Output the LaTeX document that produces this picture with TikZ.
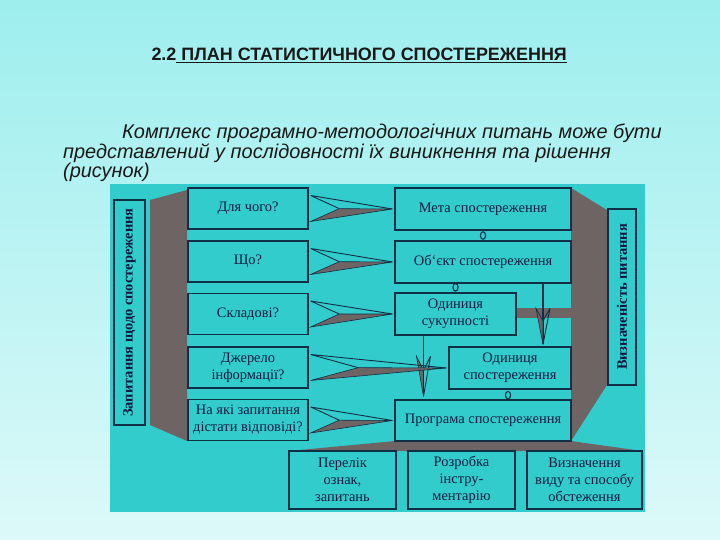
\documentclass[tikz,border=0pt]{standalone}
\usepackage{fontspec}
\setmainfont{Liberation Serif}
\newfontfamily\slidefont{Liberation Sans}
\usetikzlibrary{calc}

\definecolor{slidetop}{HTML}{9EEEEE}
\definecolor{slidebottom}{HTML}{DDF9F9}
\definecolor{panel}{HTML}{33CCCC}
\definecolor{greyband}{HTML}{6E6464}
\definecolor{edge}{HTML}{0E2F45}
\definecolor{ink}{HTML}{101A40}

% facet arrow from a question box to its answer box
\newcommand{\qarrow}[2]{%
  \coordinate (qa) at ($(#1.east)+(2,0)$);
  \coordinate (qt) at ($(#2.west)+(-2,0)$);
  \filldraw[fill=greyband, draw=edge, line width=0.6bp]
    ($(qa)!0.35!(qt)$) -- (qt) -- ($(qa)!13bp!-90:(qt)$) -- cycle;
  \draw[edge, line width=0.9bp]
    ($(qa)!13bp!90:(qt)$) -- (qt) ($(qa)!13bp!90:(qt)$) -- ($(qa)!0.35!(qt)$);
}
% line with a facet head, #3 = length of the head
\newcommand{\darrow}[3]{%
  \draw[edge, line width=1.2bp] (#1) -- (#2);
  \coordinate (da) at ($(#2)+(0,-#3)$);
  \filldraw[fill=greyband, draw=edge, line width=0.6bp]
    ($(da)!0.35!(#2)$) -- (#2) -- ($(da)!7bp!-90:(#2)$) -- cycle;
  \draw[edge, line width=0.9bp]
    ($(da)!7bp!90:(#2)$) -- (#2) ($(da)!7bp!90:(#2)$) -- ($(da)!0.35!(#2)$);
}

\begin{document}
\begin{tikzpicture}[
  x=1bp, y=-1bp,
  box/.style={draw=edge, line width=1.3bp, fill=panel, text=ink, align=center,
    inner sep=1bp, font=\fontsize{14.5}{17}\selectfont},
  qbox/.style={box, minimum width=120bp, minimum height=41bp},
  abox/.style={box, minimum width=176bp, minimum height=42bp},
  sidebox/.style={box, rotate=90, font=\bfseries\fontsize{14.5}{16}\selectfont},
  ring/.style={draw=edge, line width=1.1bp}
]
\useasboundingbox (0,0) rectangle (720,540);
\shade[top color=slidetop, bottom color=slidebottom] (0,0) rectangle (720,540);

\node[anchor=west, text=black!90, font=\slidefont\bfseries\fontsize{18}{20}\selectfont] (title)
  at (148,55) {2.2\underline{\hspace{0.28em}ПЛАН СТАТИСТИЧНОГО СПОСТЕРЕЖЕННЯ}};
\node[anchor=west, align=left, inner sep=0pt, text=black!90,
  font=\slidefont\itshape\fontsize{20}{18.5}\selectfont] (intro) at (63,153)
  {\hspace*{59bp}Комплекс програмно-методологічних питань може бути\\
   представлений у послідовності їх виникнення та рішення\\
   (рисунок)};

\fill[panel] (110,184) rectangle (645,512);

% grey bands behind the boxes
\fill[greyband] (150,200) -- (187,190) -- (187,441) -- (150,425) -- cycle;
\fill[greyband] (571,188) -- (607,210) -- (607,385) -- (571,441) -- cycle;
\fill[greyband] (516,308) rectangle (572,318);
\fill[greyband] (395,441) -- (571,441) -- (642,451) -- (289,451) -- cycle;

\node[sidebox, minimum width=225bp, minimum height=31bp] (ask) at (129.5,312.5)
  {Запитання щодо спостереження};
\node[sidebox, minimum width=176bp, minimum height=28bp] (clear) at (622,297)
  {Визначеність питання};

\node[qbox] (q1) at (248,208.5) {Для чого?};
\node[qbox] (q2) at (248,261.5) {Що?};
\node[qbox] (q3) at (248,314) {Складові?};
\node[qbox] (q4) at (248,367.5) {Джерело\\інформації?};
\node[qbox] (q5) at (248,420) {На які запитання\\дістати відповіді?};

\node[abox] (goal) at (483,209) {Мета спостереження};
\node[abox] (object) at (483,262) {Об`єкт спостереження};
\node[box, minimum width=121bp, minimum height=42bp] (unitpop) at (455.5,314)
  {Одиниця\\сукупності};
\node[box, minimum width=122bp, minimum height=42bp] (unitobs) at (510,368)
  {Одиниця\\спостереження};
\node[abox, minimum height=41bp] (program) at (483,420.5) {Програма спостереження};

\node[box, minimum width=107bp, minimum height=58bp] (list) at (342.5,480)
  {Перелік\\ознак,\\запитань};
\node[box, minimum width=107bp, minimum height=58bp] (tools) at (461.5,480)
  {Розробка\\інстру-\\ментарію};
\node[box, minimum width=115bp, minimum height=58bp] (mode) at (584.5,480)
  {Визначення\\виду та способу\\обстеження};

\qarrow{q1}{goal}
\qarrow{q2}{object}
\qarrow{q3}{unitpop}
\qarrow{q5}{program}

\coordinate (p1) at ($(unitpop.south)+(-32,0)$);
\coordinate (p2) at ($(p1 |- program.north)+(0,-3)$);
\darrow{p1}{p2}{40}
\qarrow{q4}{unitobs}

\coordinate (o1) at ($(object.south)+(60,0)$);
\coordinate (o2) at ($(o1 |- unitobs.north)+(0,-2)$);
\darrow{o1}{o2}{36}

\draw[ring] ($(goal.south)!0.5!(object.north)$) ellipse [x radius=2.6bp, y radius=3.8bp];
\draw[ring] ($(unitpop.north)+(0,-5)$) ellipse [x radius=2.6bp, y radius=3.8bp];
\draw[ring] ($(unitobs.south)+(-2,5.5)$) ellipse [x radius=2.6bp, y radius=3.8bp];

\end{tikzpicture}
\end{document}
